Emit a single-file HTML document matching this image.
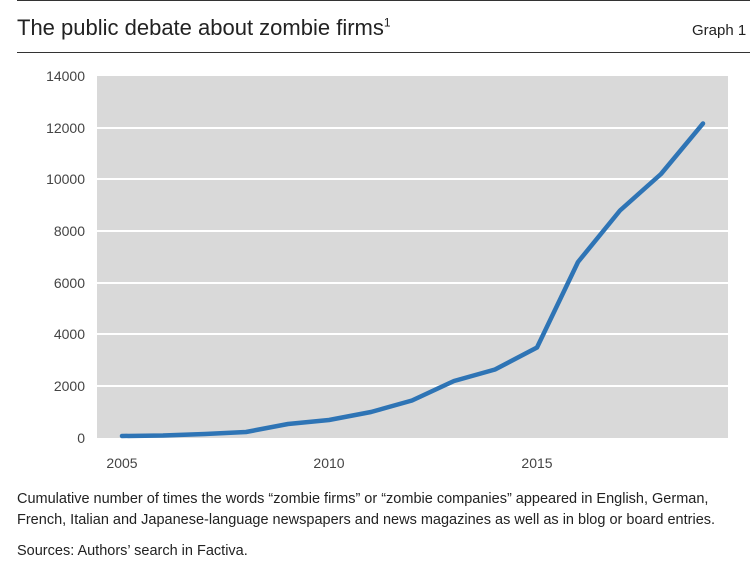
<!DOCTYPE html>
<html><head><meta charset="utf-8"><style>
body{margin:0;width:750px;height:573px;background:#fff;font-family:"Liberation Sans",sans-serif;color:#222;position:relative;overflow:hidden}
.t{position:absolute;white-space:nowrap}
</style></head><body>
<div style="position:absolute;left:17px;top:0;width:733px;height:1px;background:#333"></div>
<div class="t" style="left:17px;top:15px;font-size:22px">The public debate about zombie firms<sup style="font-size:12px">1</sup></div>
<div class="t" style="left:692px;top:22px;font-size:15px">Graph 1</div>
<div style="position:absolute;left:17px;top:52px;width:733px;height:1px;background:#333"></div>
<svg width="750" height="573" style="position:absolute;left:0;top:0" font-family="Liberation Sans, sans-serif" font-size="14" fill="#444">
<rect x="97" y="76" width="631" height="362" fill="#d9d9d9"/>
<g stroke="#fff" stroke-width="2">
<line x1="97" x2="728" y1="128" y2="128"/><line x1="97" x2="728" y1="179" y2="179"/>
<line x1="97" x2="728" y1="231" y2="231"/><line x1="97" x2="728" y1="283" y2="283"/>
<line x1="97" x2="728" y1="334" y2="334"/><line x1="97" x2="728" y1="386" y2="386"/>
</g>
<g text-anchor="end">
<text x="85" y="81">14000</text><text x="85" y="133">12000</text><text x="85" y="184">10000</text>
<text x="85" y="236">8000</text><text x="85" y="288">6000</text><text x="85" y="339">4000</text>
<text x="85" y="391">2000</text><text x="85" y="443">0</text>
</g>
<g text-anchor="middle">
<text x="122" y="468">2005</text><text x="329" y="468">2010</text><text x="537" y="468">2015</text>
</g>
<polyline fill="none" stroke="#2e74b5" stroke-width="4.5" stroke-linejoin="round" stroke-linecap="round"
points="122,436 163,435.5 205,434 246,432 288,424 329,420 371,412 412,400.5 454,381 495,369.5 537,347.5 578,262 620,210.5 661,174 703,123.5"/>
</svg>
<div class="t" style="left:17px;top:491px;font-size:14.5px;color:#222">Cumulative number of times the words “zombie firms” or “zombie companies” appeared in English, German,</div>
<div class="t" style="left:17px;top:512px;font-size:14.5px;color:#222">French, Italian and Japanese-language newspapers and news magazines as well as in blog or board entries.</div>
<div class="t" style="left:17px;top:543px;font-size:14.5px;color:#222">Sources: Authors’ search in Factiva.</div>
</body></html>
